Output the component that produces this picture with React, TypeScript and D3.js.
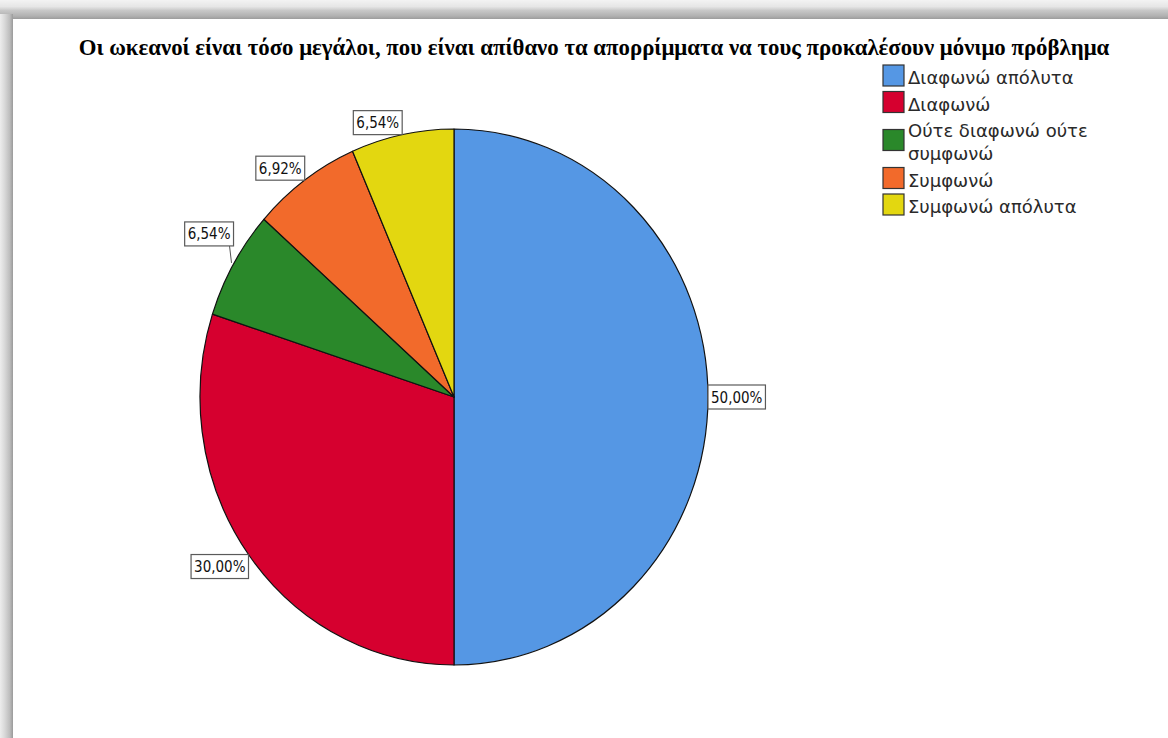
import React from 'react';
import * as d3 from 'd3';

const title = "Οι ωκεανοί είναι τόσο μεγάλοι, που είναι απίθανο τα απορρίμματα να τους προκαλέσουν μόνιμο πρόβλημα";
const categories = ["Διαφωνώ απόλυτα", "Διαφωνώ", "Ούτε διαφωνώ ούτε συμφωνώ", "Συμφωνώ", "Συμφωνώ απόλυτα"];
const legendLines = [["Διαφωνώ απόλυτα"], ["Διαφωνώ"], ["Ούτε διαφωνώ ούτε", "συμφωνώ"], ["Συμφωνώ"], ["Συμφωνώ απόλυτα"]];
const values = [50.0, 30.0, 6.54, 6.92, 6.54];
const colors = ["#5597e4", "#d6002f", "#2a882a", "#f26a2b", "#e3d710"];

const W = 1168, H = 738;
const cx = 454, cy = 397, rx = 254, ry = 268;
const labelFont = '15px "DejaVu Sans Condensed", "DejaVu Sans", sans-serif';
const labelLift = [0, 0, 18, 0, 0];

const fmt = (v: number) => d3.format(".2f")(v).replace(".", ",") + "%";

function measure(text: string, font: string): number {
  const c = document.createElement('canvas').getContext('2d');
  if (!c) return text.length * 8;
  c.font = font;
  return c.measureText(text).width;
}

export default function App() {
  const arcs = d3.pie<number>().sort(null).value(d => d)(values);
  const arcGen = d3.arc<d3.PieArcDatum<number>>().innerRadius(0).outerRadius(ry);

  const boxH = 24, padX = 3;
  const labelItems = arcs.map((a, i) => {
    const m = (a.startAngle + a.endAngle) / 2;
    const dx = Math.sin(m), dy = -Math.cos(m);
    const px = cx + rx * dx, py = cy + ry * dy;
    const text = fmt(values[i]);
    const bw = measure(text, labelFont) + padX * 2;
    let bx = dx >= 0 ? px : px - bw;
    let by: number;
    if (Math.abs(dy) < 0.1) by = py - boxH / 2;
    else if (dy < 0) by = py - boxH - labelLift[i];
    else by = py + labelLift[i];
    return { text, bx, by, bw, px, py, lift: labelLift[i] };
  });

  let yCursor = 84;
  const legendItems = legendLines.map((lines, i) => {
    const baselines = lines.map((_, j) => yCursor + j * 23);
    const last = baselines[baselines.length - 1];
    const sw = (baselines[0] + last) / 2 - 8.5;
    yCursor = last + 26.5;
    return { lines, baselines, sw, color: colors[i], name: categories[i] };
  });

  return (
    <svg width={W} height={H} style={{ position: 'absolute', left: 0, top: 0 }}>
      <defs>
        <linearGradient id="lg" x1="0" x2="1" y1="0" y2="0">
          <stop offset="0" stopColor="#ededed" />
          <stop offset="0.35" stopColor="#d9d9d9" />
          <stop offset="0.75" stopColor="#bdbdbd" />
          <stop offset="1" stopColor="#9a9a9a" />
        </linearGradient>
        <linearGradient id="tg" x1="0" x2="0" y1="0" y2="1">
          <stop offset="0" stopColor="#f3f3f3" />
          <stop offset="0.35" stopColor="#e6e6e6" />
          <stop offset="0.55" stopColor="#c8c8c8" />
          <stop offset="0.85" stopColor="#b0b0b0" />
          <stop offset="1" stopColor="#9c9c9c" />
        </linearGradient>
      </defs>
      <rect x={0} y={0} width={W} height={H} fill="#f2f2f2" />
      <rect x={0} y={0} width={W} height={19} fill="url(#tg)" />
      <rect x={0} y={14} width={13} height={H} fill="url(#lg)" />
      <rect x={13} y={19} width={W - 13} height={H - 19} fill="#ffffff" />

      <text x={594} y={55} textAnchor="middle" fontFamily='"Liberation Serif", "Times New Roman", serif'
        fontWeight="bold" fontSize={22.8} fill="#000">{title}</text>

      <g transform={`translate(${cx},${cy}) scale(${rx / ry},1)`}>
        {arcs.map((a, i) => (
          <path key={i} d={arcGen(a) || ''} fill={colors[i]} stroke="#111" strokeWidth={1.2}
            vectorEffect="non-scaling-stroke" strokeLinejoin="round" />
        ))}
      </g>

      {labelItems.map((l, i) => (
        <g key={i}>
          {l.lift > 0 && (
            <line x1={l.px - 2} y1={l.py - 1} x2={l.px - 4} y2={l.by + boxH} stroke="#555" strokeWidth={1} />
          )}
          <rect x={l.bx} y={l.by} width={l.bw} height={boxH} fill="#fff" stroke="#5a5a5a" strokeWidth={1.2} />
          <text x={l.bx + l.bw / 2} y={l.by + boxH / 2 + 5.5} textAnchor="middle"
            style={{ font: labelFont }} fill="#111">{l.text}</text>
        </g>
      ))}

      {legendItems.map((it, i) => (
        <g key={i}>
          <rect x={883} y={it.sw - 10.5} width={21} height={21} fill={it.color} stroke="#333" strokeWidth={1.2} />
          {it.lines.map((ln, j) => (
            <text key={j} x={908} y={it.baselines[j]} fontFamily='"DejaVu Sans", sans-serif'
              fontSize={18} fill="#2a2a2a">{ln}</text>
          ))}
        </g>
      ))}
    </svg>
  );
}
